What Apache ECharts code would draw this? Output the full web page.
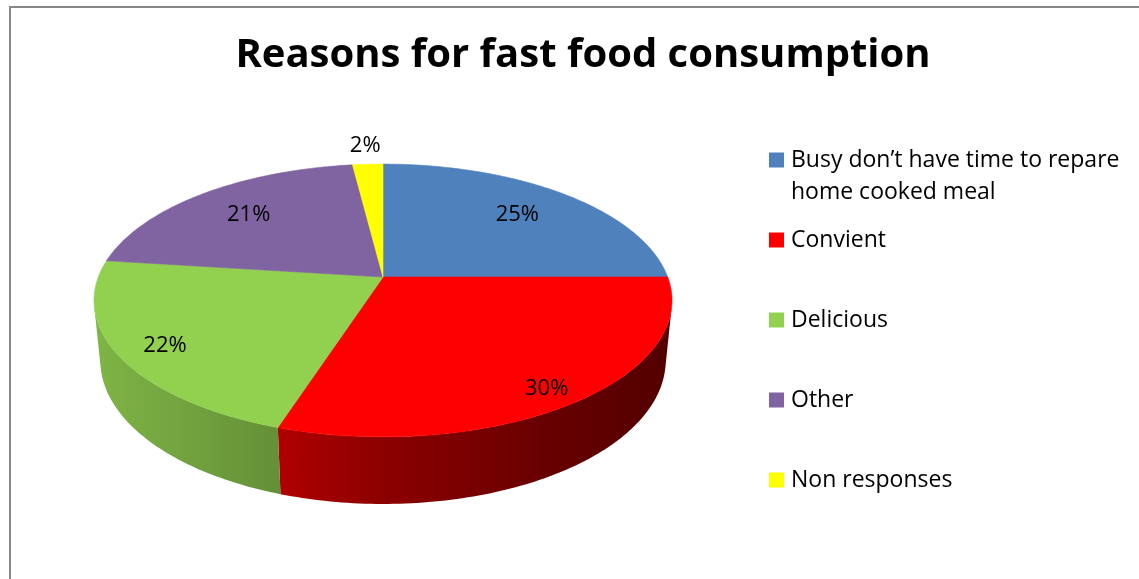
<!DOCTYPE html>
<html>
<head>
<meta charset="utf-8">
<title>Reasons for fast food consumption</title>
<script src="https://cdn.jsdelivr.net/npm/echarts@6/dist/echarts.min.js"></script>
<style>
  html, body { margin: 0; padding: 0; background: #ffffff; }
  #chart { width: 1139px; height: 579px; }
</style>
</head>
<body>
<div id="chart"></div>
<script>
// ---- data ----
const categories = [
  'Busy don\u2019t have time to repare\nhome cooked meal',
  'Convient',
  'Delicious',
  'Other',
  'Non responses'
];
const shares = [25, 30, 22, 21, 2];

// ---- styles ----
const sliceColors = ['#4F81BD', '#FF0000', '#92D050', '#8064A2', '#FFFF00'];
const FONT = '"Open Sans", Carlito, Calibri, sans-serif';

// ---- 3D pie geometry (perspective view of a tilted disc) ----
const CX = 383, CY = 277;          // screen position of the disc centre
const FOCAL = 1465;                // focal length in px
const DIST = 5.146;                // camera distance in disc radii
const TILT = 27.7 * Math.PI / 180; // elevation of the view
const SB = Math.sin(TILT), CB = Math.cos(TILT);
const THICK = 0.24;                // disc thickness in radii

// angle is measured clockwise from the back of the disc, in degrees
function project(r, angleDeg, h) {
  const a = angleDeg * Math.PI / 180;
  const x = r * Math.sin(a);
  const z = -r * Math.cos(a);      // positive towards the viewer
  const zc = DIST - z * CB - h * SB;
  const yc = h * CB - z * SB;
  return [CX + FOCAL * x / zc, CY - FOCAL * yc / zc];
}
function arc(a1, a2, h) {
  const n = Math.max(2, Math.ceil(Math.abs(a2 - a1)));
  const pts = [];
  for (let k = 0; k <= n; k++) pts.push(project(1, a1 + (a2 - a1) * k / n, h));
  return pts;
}
// part of the rim that faces the camera
const RIM_LIMIT = Math.acos(-1 / (DIST * CB)) * 180 / Math.PI;
const RIM_FROM = RIM_LIMIT, RIM_TO = 360 - RIM_LIMIT;

const total = shares.reduce((s, v) => s + v, 0);
const startAngles = [];
shares.reduce((acc, v, i) => { startAngles[i] = acc / total * 360; return acc + v; }, 0);

// darker, horizontally shaded colour for the rim
const RIM_LEFT = CX - 290, RIM_RIGHT = CX + 290;
const shadeStops = [[0, 0.87], [0.32, 0.69], [0.5, 0.55], [0.8, 0.40], [1, 0.32]];
function shade(hex, f) {
  const n = parseInt(hex.slice(1), 16);
  const c = [(n >> 16) & 255, (n >> 8) & 255, n & 255].map(v => Math.round(v * f));
  return 'rgb(' + c.join(',') + ')';
}
function rimFill(hex) {
  return new echarts.graphic.LinearGradient(RIM_LEFT, 0, RIM_RIGHT, 0,
    shadeStops.map(s => ({ offset: s[0], color: shade(hex, s[1]) })), true);
}

function makeRenderer(i) {
  return function (params, api) {
    const value = api.value(0);
    const a1 = startAngles[i];
    const a2 = a1 + value / total * 360;
    const color = sliceColors[i];
    const children = [];

    // visible rim of the slice
    const w1 = Math.max(a1, RIM_FROM), w2 = Math.min(a2, RIM_TO);
    if (w2 > w1) {
      const pts = arc(w1, w2, 0).concat(arc(w2, w1, -THICK));
      children.push({
        type: 'polygon', shape: { points: pts },
        style: { fill: rimFill(color), stroke: null }
      });
    }

    // top face
    const top = [project(0, 0, 0)].concat(arc(a1, a2, 0));
    children.push({
      type: 'polygon', shape: { points: top },
      style: { fill: color, stroke: color, lineWidth: 0.6 }
    });

    // percentage label; very small slices get their label just outside the rim
    const mid = (a1 + a2) / 2;
    const zMid = -Math.cos(mid * Math.PI / 180);
    const r = value < 5 ? 1.2 : 0.79 + 0.09 * zMid;
    const p = project(r, mid, -0.03 * Math.max(0, zMid));
    children.push({
      type: 'text', z2: 10,
      style: {
        text: Math.round(value / total * 100) + '%',
        x: p[0], y: p[1],
        align: 'center', verticalAlign: 'middle',
        fontFamily: FONT, fontSize: 22, fill: '#000000'
      }
    });
    return { type: 'group', children: children };
  };
}

const series = categories.map((name, i) => ({
  type: 'custom',
  name: name,
  coordinateSystem: 'none',
  itemStyle: { color: sliceColors[i] },
  renderItem: makeRenderer(i),
  data: [[shares[i]]],
  silent: true,
  animation: false
}));

const legendText = { fontFamily: FONT, fontSize: 23, lineHeight: 32, color: '#000000' };

const option = {
  backgroundColor: '#ffffff',
  animation: false,
  title: {
    text: 'Reasons for fast food consumption',
    left: 583, top: 36, textAlign: 'center', padding: 0,
    textStyle: { fontFamily: FONT, fontSize: 40, fontWeight: 'bold', color: '#000000' }
  },
  legend: [
    {
      // two-line entry: a blank leading line keeps the marker level with the first line
      data: [categories[0]],
      orient: 'vertical', left: 769, top: 112, padding: 0,
      icon: 'rect', itemWidth: 15, itemHeight: 15, itemGap: 48,
      selectedMode: false,
      formatter: name => '\u00a0\n' + name,
      textStyle: Object.assign({ padding: [0, 0, 0, 2] }, legendText)
    },
    {
      data: categories.slice(1),
      orient: 'vertical', left: 769, top: 224, padding: 0,
      icon: 'rect', itemWidth: 15, itemHeight: 15, itemGap: 48,
      selectedMode: false,
      textStyle: Object.assign({ padding: [0, 0, 0, 2] }, legendText)
    }
  ],
  graphic: [
    {
      type: 'rect', silent: true, z: -10,
      shape: { x: 10, y: 7, width: 1200, height: 640 },
      style: { fill: null, stroke: '#878787', lineWidth: 2 }
    }
  ],
  series: series
};

const chart = echarts.init(document.getElementById('chart'), null, { renderer: 'canvas' });
chart.setOption(option);
</script>
</body>
</html>
